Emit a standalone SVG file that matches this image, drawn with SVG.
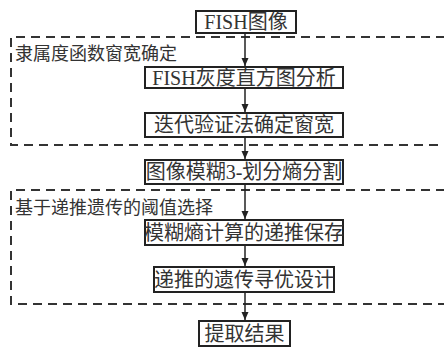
<svg xmlns="http://www.w3.org/2000/svg" width="444" height="347" viewBox="0 0 444 347">
<defs>
<marker id="arr" viewBox="0 0 8 10" refX="8" refY="5" markerWidth="8" markerHeight="10" markerUnits="userSpaceOnUse" orient="auto">
<path d="M0,1.5 L8,5 L0,8.5 Z" fill="#222"/>
</marker>
<style>
.box{fill:#fff;stroke:#222;stroke-width:2}
.t{font-family:"Liberation Serif","Noto Sans CJK SC",serif;font-size:20px;fill:#333;text-anchor:middle}
.lbl{font-family:"Liberation Serif","Noto Sans CJK SC",serif;font-size:18px;fill:#333}
.dash{fill:none;stroke:#333;stroke-width:2;stroke-dasharray:9 6}
.con{stroke:#222;stroke-width:1.5;fill:none;marker-end:url(#arr)}
</style>
</defs>
<rect width="444" height="347" fill="#fff"/>
<g id="group1">
<path class="dash" d="M460,37 H11 V145 H460"/>
<text class="lbl" x="15" y="60">隶属度函数窗宽确定</text>
</g>
<g id="group2">
<path class="dash" d="M460,190 H11 V304 H460"/>
<text class="lbl" x="15" y="214">基于递推遗传的阈值选择</text>
</g>
<g id="connectors">
<line class="con" x1="245" y1="33" x2="245" y2="66"/>
<line class="con" x1="245" y1="88" x2="245" y2="112"/>
<line class="con" x1="245" y1="137" x2="245" y2="159"/>
<line class="con" x1="245" y1="184" x2="245" y2="219"/>
<line class="con" x1="245" y1="245" x2="245" y2="266"/>
<line class="con" x1="245" y1="292" x2="245" y2="320"/>
</g>
<g id="n1"><rect class="box" x="196" y="11" width="100" height="22"/><text class="t" x="246" y="29">FISH图像</text></g>
<g id="n2"><rect class="box" x="145" y="67" width="198" height="21"/><text class="t" x="244" y="85">FISH灰度直方图分析</text></g>
<g id="n3"><rect class="box" x="145" y="113" width="198" height="24"/><text class="t" x="244" y="132">迭代验证法确定窗宽</text></g>
<g id="n4"><rect class="box" x="145" y="160" width="198" height="24"/><text class="t" x="244" y="179">图像模糊3-划分熵分割</text></g>
<g id="n5"><rect class="box" x="145" y="220" width="198" height="25"/><text class="t" x="244" y="240">模糊熵计算的递推保存</text></g>
<g id="n6"><rect class="box" x="154" y="267" width="180" height="25"/><text class="t" x="244" y="287">递推的遗传寻优设计</text></g>
<g id="n7"><rect class="box" x="199" y="321" width="91" height="25"/><text class="t" x="244.5" y="341">提取结果</text></g>
</svg>
